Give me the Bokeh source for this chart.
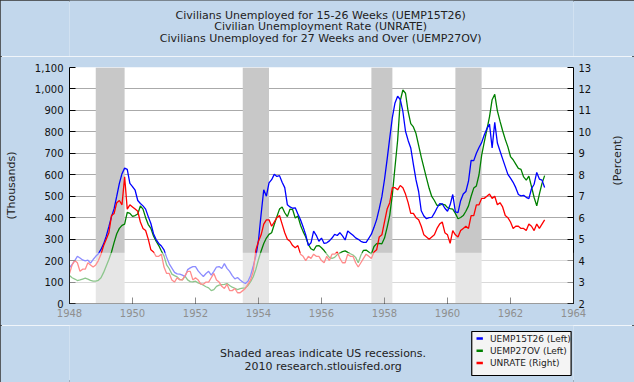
import math
from bokeh.plotting import figure
from bokeh.layouts import column
from bokeh.models import (Range1d, LinearAxis, FixedTicker, NumeralTickFormatter,
                          Label, BoxAnnotation)
from bokeh.core.properties import value
from bokeh.embed import file_html
from bokeh.resources import INLINE

# ---------------- data (monthly, Jan 1948 - Feb 1963) ----------------
START_YEAR = 1948

uemp15t26 = [
    168, 182, 200, 220, 212, 203, 199, 202, 188, 205, 220, 232,   # 1948
    252, 278, 314, 358, 405, 442, 500, 560, 605, 631, 625, 560,   # 1949
    545, 528, 480, 466, 455, 440, 405, 373, 325, 298, 280, 268,   # 1950
    250, 215, 185, 165, 145, 138, 137, 132, 125, 158, 166, 172,   # 1951
    172, 152, 138, 126, 140, 150, 132, 150, 170, 172, 163, 186,   # 1952
    164, 150, 130, 115, 121, 110, 100, 93, 104, 131, 175, 222,    # 1953
    295, 417, 530, 500, 562, 577, 602, 592, 596, 565, 540, 460,   # 1954
    450, 444, 446, 417, 390, 357, 320, 270, 283, 337, 318, 290,   # 1955
    305, 280, 283, 292, 305, 322, 317, 330, 315, 296, 338, 328,   # 1956
    318, 306, 299, 290, 285, 285, 304, 323, 355, 391, 442, 498,   # 1957
    578, 672, 772, 868, 935, 966, 951, 895, 803, 760, 725, 648,   # 1958
    576, 522, 432, 408, 395, 400, 401, 421, 445, 465, 464, 444,   # 1959
    430, 460, 508, 427, 424, 479, 510, 522, 570, 667, 666, 700,   # 1960
    727, 750, 785, 815, 836, 725, 844, 748, 711, 674, 638, 602,   # 1961
    584, 565, 540, 508, 502, 504, 495, 489, 535, 556, 611, 580,   # 1962
    575, 541,                                                     # 1963
]

uemp27ov = [
    130, 120, 114, 107, 110, 114, 118, 114, 108, 104, 104, 108,   # 1948
    120, 145, 175, 205, 240, 285, 325, 350, 364, 370, 425, 420,   # 1949
    406, 410, 417, 455, 440, 400, 368, 350, 315, 290, 270, 245,   # 1950
    222, 180, 162, 137, 130, 124, 112, 110, 128, 110, 102, 101,   # 1951
    104, 96, 92, 85, 78, 73, 60, 65, 80, 86, 88, 89,              # 1952
    93, 84, 76, 71, 65, 69, 72, 73, 84, 102, 125, 160,            # 1953
    205, 245, 280, 305, 322, 330, 368, 405, 440, 450, 423, 405,   # 1954
    440, 438, 398, 408, 365, 335, 310, 275, 255, 248, 268, 270,   # 1955
    260, 247, 230, 215, 210, 215, 228, 235, 242, 245, 238, 232,   # 1956
    226, 215, 190, 225, 248, 249, 240, 231, 266, 279, 280, 278,   # 1957
    305, 355, 412, 508, 636, 760, 945, 995, 980, 895, 838, 823,   # 1958
    792, 737, 682, 633, 584, 537, 499, 480, 457, 458, 463, 460,   # 1959
    447, 442, 440, 420, 395, 401, 410, 430, 455, 500, 538, 548,   # 1960
    600, 690, 752, 810, 870, 950, 975, 898, 850, 805, 765, 730,   # 1961
    685, 670, 650, 630, 625, 590, 575, 594, 545, 494, 455, 510,   # 1962
    560, 596,                                                     # 1963
]

unrate = [
    3.4, 3.8, 4.0, 3.9, 3.5, 3.6, 3.6, 3.9, 3.8, 3.7, 3.8, 4.0,   # 1948
    4.3, 4.7, 5.0, 5.3, 6.1, 6.2, 6.7, 6.8, 6.6, 7.9, 6.4, 6.6,   # 1949
    6.5, 6.4, 6.3, 5.8, 5.5, 5.4, 5.0, 4.5, 4.4, 4.2, 4.2, 4.3,   # 1950
    3.7, 3.4, 3.4, 3.1, 3.0, 3.2, 3.1, 3.1, 3.3, 3.5, 3.5, 3.1,   # 1951
    3.2, 3.1, 2.9, 2.9, 3.0, 3.0, 3.2, 3.4, 3.1, 3.0, 2.8, 2.7,   # 1952
    2.9, 2.6, 2.6, 2.7, 2.5, 2.5, 2.6, 2.7, 2.9, 3.1, 3.5, 4.5,   # 1953
    4.9, 5.2, 5.7, 5.9, 5.9, 5.6, 5.8, 6.0, 6.1, 5.7, 5.3, 5.0,   # 1954
    4.9, 4.7, 4.6, 4.7, 4.3, 4.2, 4.0, 4.2, 4.1, 4.3, 4.2, 4.2,   # 1955
    4.0, 3.9, 4.2, 4.0, 4.3, 4.3, 4.4, 4.1, 3.9, 3.9, 4.3, 4.2,   # 1956
    4.2, 3.9, 3.7, 3.9, 4.1, 4.3, 4.2, 4.1, 4.4, 4.5, 5.1, 5.2,   # 1957
    5.8, 6.4, 6.7, 7.4, 7.4, 7.3, 7.5, 7.4, 7.1, 6.7, 6.2, 6.2,   # 1958
    6.0, 5.9, 5.6, 5.2, 5.1, 5.0, 5.1, 5.2, 5.5, 5.7, 5.8, 5.3,   # 1959
    5.2, 4.8, 5.4, 5.2, 5.1, 5.4, 5.5, 5.6, 5.5, 6.1, 6.1, 6.6,   # 1960
    6.6, 6.9, 6.9, 7.0, 7.1, 6.9, 7.0, 6.6, 6.7, 6.5, 6.1, 6.0,   # 1961
    5.8, 5.5, 5.6, 5.6, 5.5, 5.5, 5.4, 5.7, 5.6, 5.4, 5.7, 5.5,   # 1962
    5.7, 5.9,                                                     # 1963
]

rec_start = ["1948-11", "1953-07", "1957-08", "1960-04"]
rec_end = ["1949-10", "1954-05", "1958-04", "1961-02"]

x_ticks = [1948, 1950, 1952, 1954, 1956, 1958, 1960, 1962, 1964]
left_ticks = [0, 100, 200, 300, 400, 500, 600, 700, 800, 900, 1000, 1100]
right_ticks = [2, 3, 4, 5, 6, 7, 8, 9, 10, 11, 12, 13]

title_lines = ["Civilians Unemployed for 15-26 Weeks (UEMP15T26)",
               "Civilian Unemployment Rate (UNRATE)",
               "Civilians Unemployed for 27 Weeks and Over (UEMP27OV)"]
note_lines = ["Shaded areas indicate US recessions.",
              "2010 research.stlouisfed.org"]
legend_labels = ["UEMP15T26 (Left)", "UEMP27OV (Left)", "UNRATE (Right)"]
series_colors = ["#0000FF", "#008000", "#FF0000"]


def ym(s):
    y, m = s.split("-")
    return int(y) + (int(m) - 1) / 12.0


months = [START_YEAR + i / 12.0 for i in range(len(unrate))]

BG = "#C2D7EC"
FONT = "DejaVu Sans"
W = 634


def text_strip(height):
    f = figure(width=W, height=height, output_backend="svg", toolbar_location=None,
               x_range=Range1d(0, W), y_range=Range1d(height, 0),
               x_axis_type=None, y_axis_type=None, title=None,
               min_border=0, min_border_left=0, min_border_right=0,
               min_border_top=0, min_border_bottom=0,
               background_fill_color=BG, border_fill_color=BG,
               outline_line_color=None)
    f.grid.visible = False
    return f


# ---------------- title strip ----------------
top = text_strip(56)
for i, t in enumerate(title_lines):
    top.add_layout(Label(x=316, y=14.5 + 11.7 * i, text=t, text_align="center",
                         text_baseline="middle", text_font=FONT,
                         text_font_size="11px", text_color="#222222"))

# ---------------- main chart ----------------
p = figure(width=W, height=269, output_backend="svg", toolbar_location=None,
           title=None, x_range=Range1d(1948, 1964), y_range=Range1d(0, 1100),
           min_border_left=69, min_border_right=61, min_border_top=11,
           min_border_bottom=22, background_fill_color="white",
           border_fill_color=BG, outline_line_color=None)
p.extra_y_ranges = {"right": Range1d(2, 13)}

p.xaxis.ticker = FixedTicker(ticks=x_ticks)
p.yaxis.ticker = FixedTicker(ticks=left_ticks)
p.yaxis.formatter = NumeralTickFormatter(format="0,0")
p.yaxis.axis_label = "(Thousands)"
p.yaxis.axis_label_standoff = 14
p.xaxis.major_label_standoff = 5
p.yaxis.major_label_standoff = 6

ax_r = LinearAxis(y_range_name="right", ticker=FixedTicker(ticks=right_ticks),
                  axis_label="(Percent)", axis_label_standoff=23,
                  major_label_standoff=5)
if "axis_label_orientation" in ax_r.properties():
    ax_r.axis_label_orientation = math.pi / 2
p.add_layout(ax_r, "right")

for ax in [p.xaxis[0], p.yaxis[0], ax_r]:
    ax.major_tick_in = 6
    ax.major_tick_out = 0
    ax.minor_tick_line_color = None
    ax.axis_line_color = "black"
    ax.major_tick_line_color = "black"
    ax.major_label_text_font = FONT
    ax.major_label_text_font_size = "10px"
    ax.major_label_text_color = "#111111"
    ax.axis_label_text_font = FONT
    ax.axis_label_text_font_size = "11px"
    ax.axis_label_text_font_style = "normal"
    ax.axis_label_text_color = "#222222"

# the pale band of the picture makes the lower labels lighter
p.xaxis.major_label_text_color = "#8F8F8F"
p.xaxis.axis_line_color = "#8C8C8C"

p.xgrid.visible = False
p.ygrid.grid_line_color = "#AAAAAA"
p.ygrid.grid_line_width = 1

p.quad(left=[ym(s) for s in rec_start], right=[ym(e) for e in rec_end],
       bottom=0, top=1100, fill_color="#C8C8C8", line_color=None)

p.line(months, uemp27ov, line_color=series_colors[1], line_width=1.3)
p.line(months, uemp15t26, line_color=series_colors[0], line_width=1.3)
p.line(months, unrate, line_color=series_colors[2], line_width=1.3,
       y_range_name="right")

p.add_layout(BoxAnnotation(bottom=0, top=237, fill_color="white", fill_alpha=0.55,
                           line_color=None, level="overlay"))

# ---------------- notes + key strip (coordinates are strip pixels) ----------------
bottom = text_strip(57)
for i, t in enumerate(note_lines):
    bottom.add_layout(Label(x=319, y=27.7 + 13.3 * i, text=t, text_align="center",
                            text_baseline="middle", text_font=FONT,
                            text_font_size="11px", text_color="#222222"))

# key box drawn first, so that its swatches and labels lie on top of it
bottom.quad(left=[506], right=[631], top=[6], bottom=[50],
            fill_color="#F4F4F4", fill_alpha=1.0,
            line_color="black", line_width=1.2, line_alpha=1.0)
key_rows = [13 + 12.2 * i for i in range(len(legend_labels))]
bottom.segment(x0=512, x1=520, y0=key_rows, y1=key_rows,
               line_color=series_colors, line_width=2.5)
bottom.text(x=529, y=key_rows, text=legend_labels, text_baseline="middle",
            text_align="left", text_font=value(FONT), text_font_size="9px",
            text_color="#222222")

layout = column(top, p, bottom, spacing=0,
                styles={"outline": "2px solid #333333", "outline-offset": "-2px"})
open("out.html", "w").write(file_html(layout, INLINE))
